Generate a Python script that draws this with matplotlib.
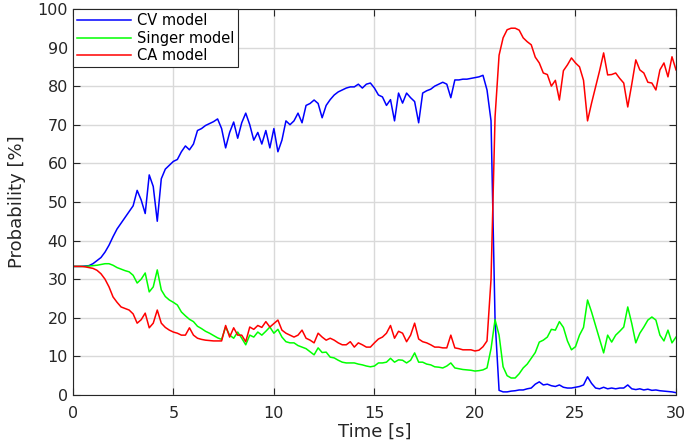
import numpy as np
import matplotlib
matplotlib.use("Agg")
from matplotlib import pyplot as plt

plt.rcParams['font.family'] = ['DejaVu Sans']

# data: model probabilities [%], sampled every 0.2 s from 0 to 30 s
cv_model = [
    33.3, 33.3, 33.3, 33.4, 33.5, 34.0, 34.8, 35.6, 37.0, 38.8,
    41.0, 43.0, 44.5, 46.0, 47.5, 49.0, 53.0, 50.5, 47.0, 57.0,
    54.0, 45.0, 56.0, 58.5, 59.5, 60.5, 61.0, 63.0, 64.5, 63.5,
    65.0, 68.5, 69.0, 69.8, 70.3, 70.8, 71.5, 69.0, 64.0, 68.0,
    70.7, 66.5, 70.5, 73.0, 70.0, 66.0, 68.0, 65.0, 68.5, 64.0,
    69.0, 63.0, 66.0, 71.0, 70.0, 71.0, 73.0, 70.5, 75.0, 75.5,
    76.4, 75.5, 71.8, 75.0, 76.5, 77.7, 78.5, 79.0, 79.5, 79.8,
    79.8, 80.5, 79.5, 80.5, 80.8, 79.5, 77.7, 77.2, 75.0, 76.5,
    71.0, 78.2, 75.6, 78.2, 77.0, 76.0, 70.5, 78.2, 78.8, 79.2,
    80.0, 80.5, 81.0, 80.5, 77.0, 81.6, 81.6, 81.8, 81.8, 82.0,
    82.2, 82.4, 82.8, 79.0, 71.0, 19.4, 1.2, 0.8, 0.8, 1.0,
    1.1, 1.3, 1.3, 1.6, 1.8, 2.8, 3.4, 2.6, 2.8, 2.4,
    2.2, 2.6, 2.0, 1.8, 1.8, 2.0, 2.2, 2.6, 4.7, 3.0,
    1.8, 1.6, 2.0, 1.6, 1.8, 1.6, 1.8, 1.8, 2.6, 1.6,
    1.4, 1.6, 1.3, 1.5, 1.2, 1.3, 1.1, 1.0, 0.9, 0.8,
    0.6]

singer_model = [
    33.3, 33.3, 33.3, 33.3, 33.4, 33.5, 33.6, 33.8, 34.0, 34.0,
    33.6, 33.0, 32.6, 32.2, 31.9, 31.0, 29.0, 30.0, 31.6, 26.7,
    28.0, 32.4, 27.2, 25.5, 24.6, 24.0, 23.3, 21.5, 20.5, 19.6,
    19.0, 17.8, 17.2, 16.5, 16.0, 15.4, 14.8, 14.4, 17.6, 15.5,
    14.7, 16.3, 14.7, 13.0, 15.5, 15.0, 16.3, 15.5, 16.5, 17.6,
    16.0, 17.0, 15.0, 13.8, 13.5, 13.5, 12.8, 12.4, 12.0, 11.2,
    10.4, 12.2, 11.0, 11.1, 9.8, 9.6, 9.0, 8.5, 8.3, 8.3,
    8.3, 8.0, 7.8, 7.5, 7.3, 7.5, 8.3, 8.3, 8.5, 9.5,
    8.5, 9.1, 9.0, 8.3, 9.0, 10.9, 8.5, 8.5, 8.0, 7.8,
    7.3, 7.2, 7.0, 7.5, 8.3, 7.0, 6.8, 6.6, 6.5, 6.4,
    6.2, 6.3, 6.5, 7.0, 12.0, 19.5, 15.5, 7.3, 5.0, 4.4,
    4.4, 5.5, 7.0, 8.0, 9.5, 11.0, 13.7, 14.2, 15.0, 17.0,
    16.8, 19.0, 17.5, 14.0, 11.7, 12.5, 15.5, 17.5, 24.6, 21.5,
    18.0, 14.5, 10.9, 15.5, 13.7, 15.5, 16.5, 17.6, 22.8, 18.5,
    13.5, 16.0, 17.6, 19.4, 20.2, 19.4, 15.5, 14.0, 16.8, 13.5,
    15.0]

ca_model = [
    33.3, 33.3, 33.3, 33.2, 33.0, 32.8, 32.3, 31.4, 30.0, 28.0,
    25.4, 24.0, 22.8, 22.4, 22.0, 21.0, 18.6, 19.5, 21.2, 17.4,
    18.6, 22.0, 18.6, 17.5, 16.8, 16.3, 16.0, 15.5, 15.5, 17.4,
    15.5, 14.7, 14.4, 14.2, 14.1, 14.0, 14.0, 14.0, 18.0, 15.0,
    17.4, 15.5, 15.5, 13.8, 17.6, 17.0, 18.0, 17.5, 19.0, 17.6,
    18.5, 19.4, 16.8, 16.0, 15.5, 15.0, 15.5, 16.8, 14.7, 14.2,
    13.5, 16.0, 15.0, 14.2, 14.7, 14.2, 13.5, 13.0, 13.0, 13.8,
    12.4, 13.5, 13.0, 12.4, 12.4, 13.5, 14.5, 15.0, 16.0, 18.0,
    14.7, 16.5, 16.0, 13.8, 15.5, 18.6, 14.5, 13.8, 13.5, 13.0,
    12.4, 12.4, 12.2, 12.2, 15.5, 12.2, 12.0, 11.7, 11.7, 11.7,
    11.4, 11.6, 12.5, 14.0, 30.0, 72.0, 88.0, 92.5, 94.6, 95.0,
    95.0, 94.5, 92.5, 91.5, 90.7, 87.5, 86.0, 83.4, 83.0, 80.0,
    81.5, 76.4, 84.0, 85.5, 87.3, 86.0, 85.0, 81.5, 71.0, 75.6,
    79.8, 84.0, 88.6, 82.9, 83.0, 83.4, 82.0, 80.8, 74.6, 80.5,
    86.8, 84.2, 83.4, 81.0, 80.8, 79.0, 84.2, 86.0, 82.4, 87.6,
    84.2]

# each series starts from 0 at t = 0
time = np.concatenate(([0.0], np.linspace(0, 30, len(cv_model))))
cv = np.concatenate(([0.0], cv_model))
singer = np.concatenate(([0.0], singer_model))
ca = np.concatenate(([0.0], ca_model))

fig = plt.figure(figsize=(6.87, 4.45), dpi=100)
ax = fig.add_axes([0.106, 0.1124, 0.878, 0.8676])

ax.plot(time, cv, color='#0000ff', lw=1.1, label='CV model')
ax.plot(time, singer, color='#00ff00', lw=1.1, label='Singer model')
ax.plot(time, ca, color='#ff0000', lw=1.1, label='CA model')

ax.set_xlim(0, 30)
ax.set_ylim(0, 100)
ax.set_xticks(np.arange(0, 31, 5))
ax.set_yticks(np.arange(0, 101, 10))
ax.grid(True, color='#d9d9d9', lw=1.0)
ax.set_axisbelow(True)
ax.tick_params(direction='in', top=True, right=True, length=5,
               labelsize=11.5, colors='#262626')
ax.tick_params(axis='x', pad=8)
for s in ax.spines.values():
    s.set_color('#262626')

ax.set_xlabel('Time [s]', fontsize=13, color='#262626', labelpad=1)
ax.set_ylabel('Probability [%]', fontsize=13, color='#262626', labelpad=8)

leg = ax.legend(loc='upper left', borderaxespad=0, fancybox=False,
                edgecolor='#262626', framealpha=1, fontsize=10.5,
                handlelength=3.7, handletextpad=0.4, borderpad=0.28,
                labelspacing=0.18)
leg.get_frame().set_linewidth(0.8)

fig.savefig('out.png', dpi=100)
